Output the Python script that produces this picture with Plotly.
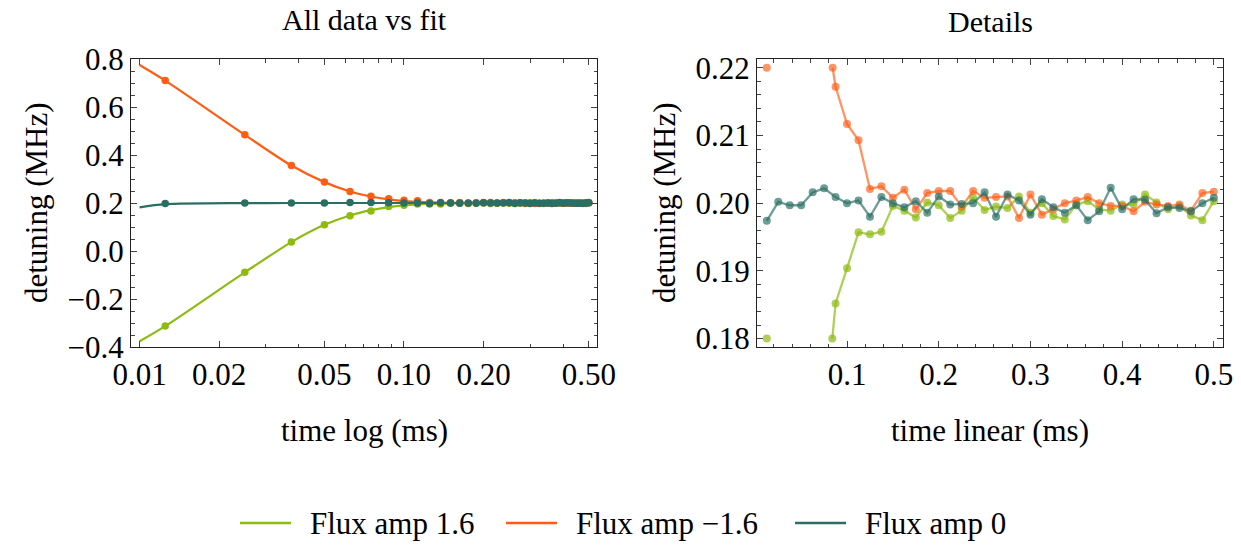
import plotly.graph_objects as go

# ---------------- data ----------------
time_ms = [0.0125, 0.025, 0.0375, 0.05, 0.0625, 0.075, 0.0875, 0.1, 0.1125, 0.125,
           0.1375, 0.15, 0.1625, 0.175, 0.1875, 0.2, 0.2125, 0.225, 0.2375, 0.25,
           0.2625, 0.275, 0.2875, 0.3, 0.3125, 0.325, 0.3375, 0.35, 0.3625, 0.375,
           0.3875, 0.4, 0.4125, 0.425, 0.4375, 0.45, 0.4625, 0.475, 0.4875, 0.5]

amp_p16 = [-0.313, -0.089, 0.037, 0.109, 0.147, 0.167, 0.1852, 0.1904, 0.1957, 0.1954,
           0.1958, 0.1996, 0.1989, 0.1979, 0.2001, 0.1997, 0.1978, 0.1989, 0.2008, 0.1990,
           0.1995, 0.1993, 0.2010, 0.1986, 0.2000, 0.1981, 0.1976, 0.1998, 0.2003, 0.1991,
           0.1989, 0.1998, 0.1998, 0.2013, 0.2001, 0.1991, 0.1996, 0.1982, 0.1975, 0.2003]

amp_m16 = [0.710, 0.484, 0.356, 0.287, 0.248, 0.228, 0.2172, 0.2117, 0.2093, 0.2021,
           0.2025, 0.2008, 0.2020, 0.1991, 0.2015, 0.2018, 0.2018, 0.1995, 0.2018, 0.2008,
           0.2009, 0.2010, 0.1978, 0.2013, 0.1983, 0.1991, 0.2000, 0.2004, 0.2009, 0.2000,
           0.1996, 0.1996, 0.1988, 0.2002, 0.1998, 0.1996, 0.1998, 0.1989, 0.2015, 0.2017]

amp_0 = [0.1974, 0.2002, 0.1997, 0.1997, 0.2016, 0.2022, 0.2009, 0.2000, 0.2004, 0.1980,
         0.2009, 0.2000, 0.1994, 0.2003, 0.1986, 0.2010, 0.1998, 0.1999, 0.2000, 0.2016,
         0.1980, 0.2013, 0.2004, 0.1983, 0.2006, 0.1994, 0.1986, 0.1997, 0.1975, 0.1988,
         0.2023, 0.1991, 0.2006, 0.2005, 0.1985, 0.1994, 0.1993, 0.1988, 0.2000, 0.2008]

# fit curves
fit_t = [0.01, 0.0125, 0.025, 0.0375, 0.05, 0.0625, 0.075, 0.0875, 0.1, 0.125, 0.15, 0.2, 0.3, 0.5]
fit_p16 = [-0.376, -0.313, -0.089, 0.037, 0.109, 0.148, 0.170, 0.183, 0.190, 0.196, 0.198, 0.200, 0.200, 0.200]
fit_m16 = [0.775, 0.710, 0.484, 0.356, 0.287, 0.248, 0.227, 0.215, 0.208, 0.203, 0.201, 0.200, 0.200, 0.200]
fit_0 = [0.182, 0.195, 0.1995, 0.200, 0.200, 0.200, 0.200, 0.200, 0.200, 0.200, 0.200, 0.200, 0.200, 0.200]

names = ["Flux amp 1.6", "Flux amp \u22121.6", "Flux amp 0"]
colors = ["#8dbb12", "#ff5d14", "#2a6e64"]
light_colors = ["rgba(141,187,18,0.70)", "rgba(255,93,20,0.66)", "rgba(42,110,100,0.68)"]

x_log_ticks = [0.01, 0.02, 0.05, 0.1, 0.2, 0.5]
x_log_ticktext = ["0.01", "0.02", "0.05", "0.10", "0.20", "0.50"]
x_log_minor = [0.03, 0.04, 0.06, 0.07, 0.08, 0.09, 0.3, 0.4]

DETAIL_LO, DETAIL_HI = 0.18, 0.22

FONT = "Liberation Serif"
FS = 31


def clip_band(t, v, lo, hi):
    """Clip a polyline to lo<=y<=hi; returns line coords and marker coords."""
    lx, ly, mx, my = [], [], [], []
    for i in range(len(t)):
        if lo <= v[i] <= hi:
            mx.append(t[i]); my.append(v[i])
    # the first sample is shown clamped to the band edge
    if not (lo <= v[0] <= hi):
        mx.append(t[0]); my.append(min(max(v[0], lo), hi))
    for i in range(len(t) - 1):
        x0, y0, x1, y1 = t[i], v[i], t[i + 1], v[i + 1]
        dy = y1 - y0
        u0, u1 = 0.0, 1.0
        if dy == 0:
            if not (lo <= y0 <= hi):
                continue
        else:
            ua, ub = (lo - y0) / dy, (hi - y0) / dy
            u0 = max(u0, min(ua, ub)); u1 = min(u1, max(ua, ub))
        if u0 > u1:
            continue
        p0 = (x0 + u0 * (x1 - x0), y0 + u0 * dy)
        p1 = (x0 + u1 * (x1 - x0), y0 + u1 * dy)
        if u0 > 0:
            mx.append(p0[0]); my.append(p0[1])
        if u1 < 1:
            mx.append(p1[0]); my.append(p1[1])
        if lx and lx[-1] is not None and abs(lx[-1] - p0[0]) < 1e-12 and abs(ly[-1] - p0[1]) < 1e-12:
            lx.append(p1[0]); ly.append(p1[1])
        else:
            if lx:
                lx.append(None); ly.append(None)
            lx += [p0[0], p1[0]]; ly += [p0[1], p1[1]]
    return lx, ly, mx, my


fig = go.Figure()

series = [amp_p16, amp_m16, amp_0]
fits = [fit_p16, fit_m16, fit_0]

# left panel: fit + data
for name, col, fit_y in zip(names, colors, fits):
    fig.add_trace(go.Scatter(x=fit_t, y=fit_y, mode="lines", name=name,
                             line=dict(color=col, width=2.2, shape="spline", smoothing=0.8),
                             xaxis="x", yaxis="y", showlegend=False))
for name, col, vals in zip(names, colors, series):
    fig.add_trace(go.Scatter(x=time_ms, y=vals, mode="markers", name=name,
                             marker=dict(color=col, size=7.5),
                             xaxis="x", yaxis="y", showlegend=False))

# right panel: detail
for name, col, vals in zip(names, light_colors, series):
    lx, ly, mx, my = clip_band(time_ms, vals, DETAIL_LO, DETAIL_HI)
    fig.add_trace(go.Scatter(x=lx, y=ly, mode="lines", line=dict(color=col, width=2.3),
                             xaxis="x2", yaxis="y2", showlegend=False, hoverinfo="skip"))
    fig.add_trace(go.Scatter(x=mx, y=my, mode="markers", marker=dict(color=col, size=8),
                             xaxis="x2", yaxis="y2", showlegend=False, name=name))

W, H = 1241, 548


def px(x):
    return x / W


def py(y):
    return 1 - y / H


L1, R1 = 131, 597
L2, R2 = 757, 1223
TOP, BOT = 59, 347

axis_common = dict(showline=True, linecolor="#222", linewidth=1, mirror="ticks",
                   ticks="inside", ticklen=6, tickcolor="#444", tickwidth=1,
                   showgrid=False, zeroline=False, automargin=False,
                   tickfont=dict(family=FONT, size=FS, color="black"))

fig.update_layout(
    width=W, height=H, margin=dict(l=0, r=0, t=0, b=0),
    paper_bgcolor="white", plot_bgcolor="white",
    font=dict(family=FONT, size=FS, color="black"),
    xaxis=dict(domain=[px(L1), px(R1)], type="log", range=[-2.0325, -0.270],
               tickvals=x_log_ticks, ticktext=x_log_ticktext, anchor="y",
               minor=dict(tickvals=x_log_minor, ticks="inside", ticklen=3.5, tickcolor="#444"),
               **axis_common),
    yaxis=dict(domain=[py(BOT), py(TOP)], range=[-0.4, 0.8], dtick=0.2, tickformat=".1f",
               anchor="x", minor=dict(dtick=0.05, ticks="inside", ticklen=3.5, tickcolor="#444"),
               **axis_common),
    xaxis2=dict(domain=[px(L2), px(R2)], range=[0.0018, 0.510], dtick=0.1, tick0=0, tickformat=".1f",
                anchor="y2", minor=dict(dtick=0.02, ticks="inside", ticklen=3.5, tickcolor="#444"),
                **axis_common),
    yaxis2=dict(domain=[py(BOT), py(TOP)], range=[0.17876, 0.2213], dtick=0.01, tick0=0,
                tickformat=".2f", anchor="x2",
                minor=dict(dtick=0.002, ticks="inside", ticklen=3.5, tickcolor="#444"),
                **axis_common),
    showlegend=False,
    hovermode=False,
)

ann = dict(xref="paper", yref="paper", showarrow=False, font=dict(family=FONT, size=FS, color="black"))
title_font = dict(family=FONT, size=30, color="black")
fig.add_annotation(text="All data vs fit", x=px(364), y=py(20), xanchor="center", yanchor="middle",
                   xref="paper", yref="paper", showarrow=False, font=title_font)
fig.add_annotation(text="Details", x=px(990), y=py(21), xanchor="center", yanchor="middle",
                   xref="paper", yref="paper", showarrow=False, font=title_font)
fig.add_annotation(text="time log (ms)", x=px(364), y=py(430), xanchor="center", yanchor="middle", **ann)
fig.add_annotation(text="time linear (ms)", x=px(990), y=py(430), xanchor="center", yanchor="middle", **ann)
fig.add_annotation(text="detuning (MHz)", x=px(36), y=py(203), xanchor="center", yanchor="middle",
                   textangle=-90, **ann)
fig.add_annotation(text="detuning (MHz)", x=px(664), y=py(203), xanchor="center", yanchor="middle",
                   textangle=-90, **ann)

# legend (drawn as key line + label, laid out like the reference)
legend_y = 523
legend_line_x = [240, 506, 795]
for name, col, lx0 in zip(names, colors, legend_line_x):
    fig.add_shape(type="line", xref="paper", yref="paper",
                  x0=px(lx0), x1=px(lx0 + 51), y0=py(legend_y), y1=py(legend_y),
                  line=dict(color=col, width=2.5))
    fig.add_annotation(text=name, x=px(lx0 + 68), y=py(legend_y), xanchor="left",
                       yanchor="middle", **ann)

# remove the browser's default 8px page margin so the figure fills the window exactly
fig.write_html("out.html", config={"displayModeBar": False},
               post_script="document.body.style.margin='0px';")
